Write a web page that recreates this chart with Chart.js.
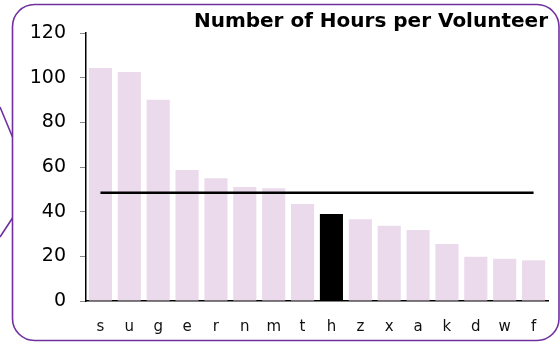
<!DOCTYPE html>
<html>
<head>
<meta charset="utf-8">
<script src="https://cdn.jsdelivr.net/npm/chart.js@4.4.1/dist/chart.umd.min.js"></script>
<style>
  html, body { margin: 0; padding: 0; background: #ffffff; }
  #wrap { width: 560px; height: 342px; position: relative; }
</style>
</head>
<body>
<div id="wrap"><canvas id="chart" width="560" height="342"></canvas></div>
<script>
// Volunteers, sorted by hours
const categories = ['s','u','g','e','r','n','m','t','h','z','x','a','k','d','w','f'];
const hoursPerVolunteer = [104.3, 102.5, 90.1, 58.7, 55.0, 51.0, 50.5, 43.4, 39.0, 36.6, 33.7, 31.8, 25.5, 19.8, 18.9, 18.2];
const averageHours = 48.5;
const highlighted = 'h';
const yTicks = [0, 20, 40, 60, 80, 100, 120];

const barFill = '#ebd9ec';
const highlightFill = '#000000';
const frameColor = '#7030a0';
const fontFamily = '"DejaVu Sans", Verdana, sans-serif';

// Rounded callout frame behind the chart
const framePlugin = {
  id: 'calloutFrame',
  beforeDraw(chart) {
    const ctx = chart.ctx;
    const x0 = 12.5, y0 = 4.5, x1 = 559, y1 = 340.5, r = 22;
    ctx.save();
    ctx.fillStyle = '#ffffff';
    ctx.fillRect(0, 0, chart.width, chart.height);
    ctx.strokeStyle = frameColor;
    ctx.lineWidth = 1.6;
    ctx.beginPath();
    ctx.moveTo(x0 + r, y0);
    ctx.lineTo(x1 - r, y0);
    ctx.arcTo(x1, y0, x1, y0 + r, r);
    ctx.lineTo(x1, y1 - r);
    ctx.arcTo(x1, y1, x1 - r, y1, r);
    ctx.lineTo(x0 + r, y1);
    ctx.arcTo(x0, y1, x0, y1 - r, r);
    ctx.lineTo(x0, y0 + r);
    ctx.arcTo(x0, y0, x0 + r, y0, r);
    ctx.closePath();
    ctx.stroke();
    // pointer lines on the left side
    ctx.beginPath();
    ctx.moveTo(0, 107);
    ctx.lineTo(x0, 137);
    ctx.moveTo(x0, 218);
    ctx.lineTo(0, 237);
    ctx.stroke();
    ctx.restore();
  }
};

new Chart(document.getElementById('chart'), {
  data: {
    labels: categories,
    datasets: [
      {
        type: 'line',
        data: categories.map(() => averageHours),
        borderColor: '#000000',
        borderWidth: 2.5,
        pointRadius: 0,
        fill: false,
        order: 0
      },
      {
        type: 'bar',
        data: hoursPerVolunteer,
        backgroundColor: categories.map(c => c === highlighted ? highlightFill : barFill),
        barPercentage: 0.8,
        categoryPercentage: 1.0,
        order: 1
      }
    ]
  },
  options: {
    responsive: false,
    animation: false,
    layout: { padding: { left: 20, right: 12, top: 11, bottom: 5 } },
    plugins: {
      legend: { display: false },
      tooltip: { enabled: false },
      title: {
        display: true,
        text: 'Number of Hours per Volunteer',
        align: 'end',
        color: '#000000',
        font: { family: fontFamily, size: 20, weight: 'bold', lineHeight: 1.1 },
        padding: { top: 0, bottom: 0 }
      }
    },
    scales: {
      x: {
        offset: true,
        grid: { display: false, drawTicks: false },
        border: { display: true, color: '#000000', width: 1.5 },
        ticks: { color: '#111111', font: { family: fontFamily, size: 15 }, padding: 17 },
        afterFit(scale) { scale.height = 36; }
      },
      y: {
        min: 0,
        max: 120,
        afterBuildTicks(scale) { scale.ticks = yTicks.map(v => ({ value: v })); },
        grid: { drawOnChartArea: false, drawTicks: true, tickLength: 6, color: '#888888' },
        border: { display: true, color: '#000000', width: 1.5 },
        ticks: { color: '#000000', font: { family: fontFamily, size: 19 }, padding: 14 },
        afterFit(scale) { scale.width = 66; }
      }
    }
  },
  plugins: [framePlugin]
});
</script>
</body>
</html>
